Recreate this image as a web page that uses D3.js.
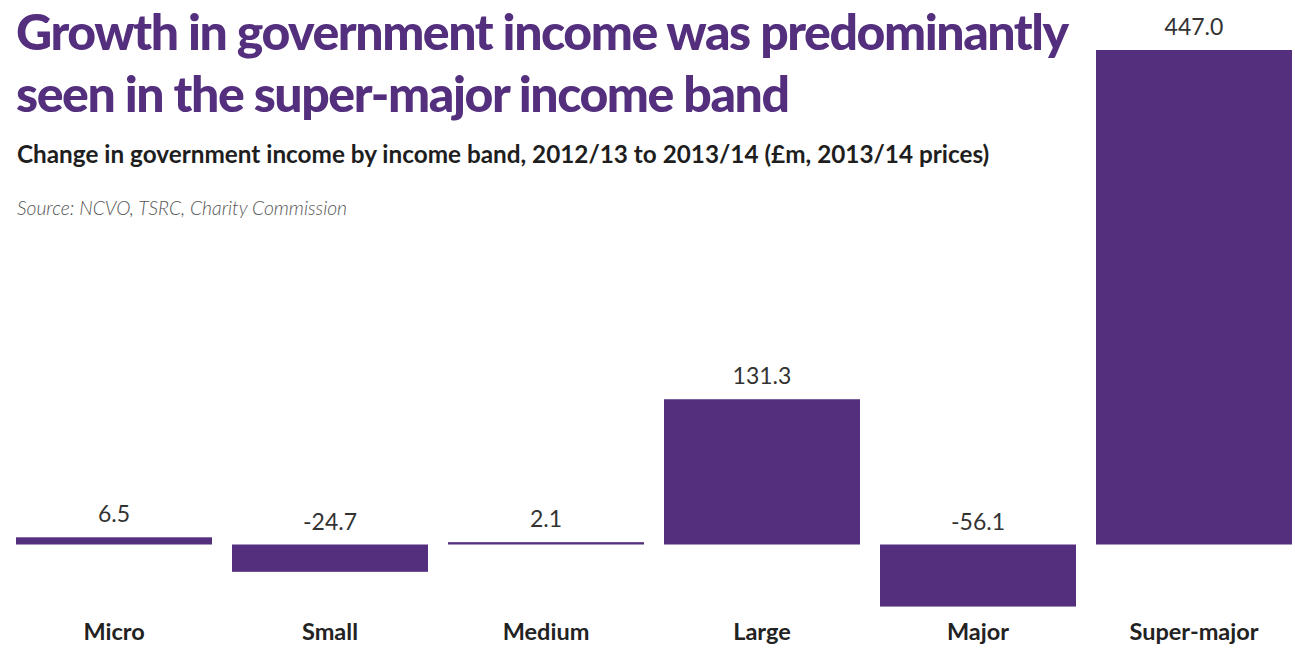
<!DOCTYPE html>
<html>
<head>
<meta charset="utf-8">
<script src="https://cdn.jsdelivr.net/npm/d3@7"></script>
<style>
  html, body { margin: 0; padding: 0; background: #fff; }
  svg { display: block; }
</style>
</head>
<body>
<svg id="chart" width="1295" height="648"></svg>
<script>
// Change in government income by income band (£m, 2013/14 prices)
const bands = ["Micro", "Small", "Medium", "Large", "Major", "Super-major"];
const changes = [6.5, -24.7, 2.1, 131.3, -56.1, 447.0];
const valueLabels = ["6.5", "-24.7", "2.1", "131.3", "-56.1", "447.0"];

const titleLines = [
  "Growth in government income was predominantly",
  "seen in the super-major income band"
];
const subtitle = "Change in government income by income band, 2012/13 to 2013/14 (£m, 2013/14 prices)";
const source = "Source: NCVO, TSRC, Charity Commission";

const purple = "#532f7e";
const svg = d3.select("#chart");
const font = "Lato, 'Open Sans', sans-serif";

// Headline
svg.append("g").selectAll("text").data(titleLines).join("text")
  .attr("x", 16)
  .attr("y", (d, i) => 50 + i * 62)
  .attr("font-family", font)
  .attr("font-weight", 900)
  .attr("font-size", 50)
  .attr("letter-spacing", -1.45)
  .attr("fill", purple)
  .text(d => d);

svg.append("text")
  .attr("x", 17).attr("y", 163)
  .attr("font-family", font).attr("font-weight", 700)
  .attr("font-size", 24.3)
  .attr("fill", "#1e1e1e")
  .text(subtitle);

svg.append("text")
  .attr("x", 17).attr("y", 215)
  .attr("font-family", font).attr("font-weight", 300).attr("font-style", "italic")
  .attr("font-size", 19.3)
  .attr("fill", "#555")
  .text(source);

// Scales
const x = d3.scaleBand()
  .domain(bands)
  .range([6, 1302])
  .paddingInner(0.0926)
  .paddingOuter(0.0463);

const y = d3.scaleLinear()
  .domain([0, 447])
  .range([544.5, 50]);

const g = svg.append("g");

g.selectAll("rect").data(bands).join("rect")
  .attr("x", d => x(d))
  .attr("width", x.bandwidth())
  .attr("y", (d, i) => y(Math.max(0, changes[i])))
  .attr("height", (d, i) => Math.abs(y(changes[i]) - y(0)))
  .attr("fill", purple);

g.selectAll("text.value").data(bands).join("text")
  .attr("class", "value")
  .attr("x", d => x(d) + x.bandwidth() / 2)
  .attr("y", (d, i) => y(Math.max(0, changes[i])) - 15)
  .attr("text-anchor", "middle")
  .attr("font-family", font).attr("font-weight", 400)
  .attr("font-size", 23)
  .attr("fill", "#333")
  .text((d, i) => valueLabels[i]);

// Category axis labels
const axis = d3.axisBottom(x).tickSize(0).tickPadding(0);
const axisG = svg.append("g")
  .attr("transform", "translate(0,623)")
  .call(axis);
axisG.select(".domain").remove();
axisG.selectAll("text")
  .attr("dy", "0.71em")
  .attr("font-family", font).attr("font-weight", 700)
  .attr("font-size", 23.5)
  .attr("fill", "#222");
</script>
</body>
</html>
